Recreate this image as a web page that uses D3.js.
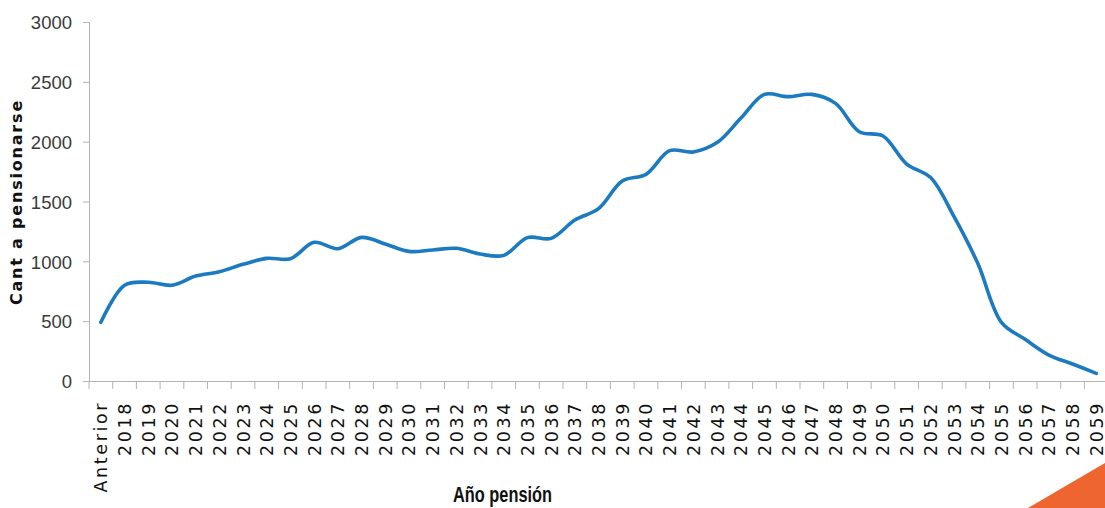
<!DOCTYPE html>
<html>
<head>
<meta charset="utf-8">
<script src="https://cdn.jsdelivr.net/npm/d3@7"></script>
<style>
  body { margin: 0; background: #fff; }
  svg { display: block; }
</style>
</head>
<body>
<div id="chart"></div>
<script>
// datos
var anios = ["Anterior", "2018", "2019", "2020", "2021", "2022", "2023", "2024", "2025",
  "2026", "2027", "2028", "2029", "2030", "2031", "2032", "2033", "2034", "2035", "2036",
  "2037", "2038", "2039", "2040", "2041", "2042", "2043", "2044", "2045", "2046", "2047",
  "2048", "2049", "2050", "2051", "2052", "2053", "2054", "2055", "2056", "2057", "2058", "2059"];
var cantidad = [490, 800, 825, 800, 877, 913, 975, 1025, 1022, 1159, 1105, 1200, 1145,
  1083, 1095, 1109, 1061, 1050, 1198, 1192, 1345, 1440, 1671, 1727, 1925, 1914, 1992,
  2195, 2395, 2376, 2395, 2320, 2083, 2047, 1813, 1702, 1373, 983, 490, 348, 217, 142, 64];
var yTicks = [0, 500, 1000, 1500, 2000, 2500, 3000];

var width = 1105, height = 508;
var margenIzq = 89, margenSup = 22, ejeY0 = 381, bandW = 23.7;

var svg = d3.select("#chart")
  .append("svg")
    .attr("width", width)
    .attr("height", height);

// escalas
var x = d3.scaleBand()
    .domain(anios)
    .range([margenIzq, margenIzq + bandW * anios.length])
    .padding(0);

var y = d3.scaleLinear()
    .domain([0, 3000])
    .range([ejeY0, margenSup]);

// eje Y
var yAxis = svg.append("g")
    .attr("transform", "translate(" + margenIzq + ",0)")
    .call(d3.axisLeft(y).tickValues(yTicks).tickFormat(d3.format("d"))
      .tickSize(6).tickPadding(11).tickSizeOuter(0));
yAxis.select(".domain").attr("stroke", "#b3b3b3");
yAxis.selectAll(".tick line").attr("stroke", "#b3b3b3");
yAxis.selectAll(".tick text")
    .attr("fill", "#3a3a3a")
    .attr("dy", "0.36em")
    .style("font-family", "'Liberation Sans', Arial, sans-serif")
    .style("font-size", "18.5px");

// eje X (marcas entre categorias)
var xAxis = svg.append("g")
    .attr("transform", "translate(0," + ejeY0 + ")")
    .call(d3.axisBottom(x).tickSize(0).tickSizeOuter(0).tickPadding(0));
xAxis.select(".domain").attr("stroke", "#b3b3b3");
xAxis.selectAll(".tick text")
    .attr("transform", "rotate(-90)")
    .attr("x", -20)
    .attr("y", 0)
    .attr("dy", "0.37em")
    .attr("text-anchor", "end")
    .attr("fill", "#111")
    .style("font-family", "'DejaVu Sans', Verdana, sans-serif")
    .style("font-size", "17.5px")
    .style("letter-spacing", "2.6px");

var bordes = anios.map(function(d) { return x(d); });
bordes.push(x(anios[anios.length - 1]) + x.bandwidth());
xAxis.selectAll(".borde")
    .data(bordes)
    .enter()
    .append("line")
      .attr("class", "borde")
      .attr("x1", function(d) { return d; })
      .attr("x2", function(d) { return d; })
      .attr("y1", 0)
      .attr("y2", 8)
      .attr("stroke", "#b3b3b3");

// linea suavizada
var linea = d3.line()
    .x(function(d, i) { return x(anios[i]) + x.bandwidth() / 2; })
    .y(function(d) { return y(d); })
    .curve(d3.curveCatmullRom.alpha(0.5));

svg.append("path")
    .datum(cantidad)
    .attr("d", linea)
    .attr("fill", "none")
    .attr("stroke", "#1c7bc0")
    .attr("stroke-width", 3.6)
    .attr("stroke-linejoin", "round")
    .attr("stroke-linecap", "round");

// titulos
svg.append("text")
    .attr("transform", "translate(22,202) rotate(-90)")
    .attr("text-anchor", "middle")
    .attr("fill", "#111")
    .style("font-family", "'DejaVu Sans', Verdana, sans-serif")
    .style("font-weight", "bold")
    .style("font-size", "16px")
    .style("letter-spacing", "1.8px")
    .text("Cant a pensionarse");

svg.append("text")
    .attr("x", 453)
    .attr("y", 502)
    .attr("textLength", 99)
    .attr("lengthAdjust", "spacingAndGlyphs")
    .attr("fill", "#111")
    .style("font-family", "'Liberation Sans', Arial, sans-serif")
    .style("font-weight", "bold")
    .style("font-size", "22px")
    .text("Año pensión");

// adorno naranja abajo a la derecha
svg.append("path")
    .attr("d", "M1028,508L1105,508L1105,463Z")
    .attr("fill", "#ef6530");
</script>
</body>
</html>
